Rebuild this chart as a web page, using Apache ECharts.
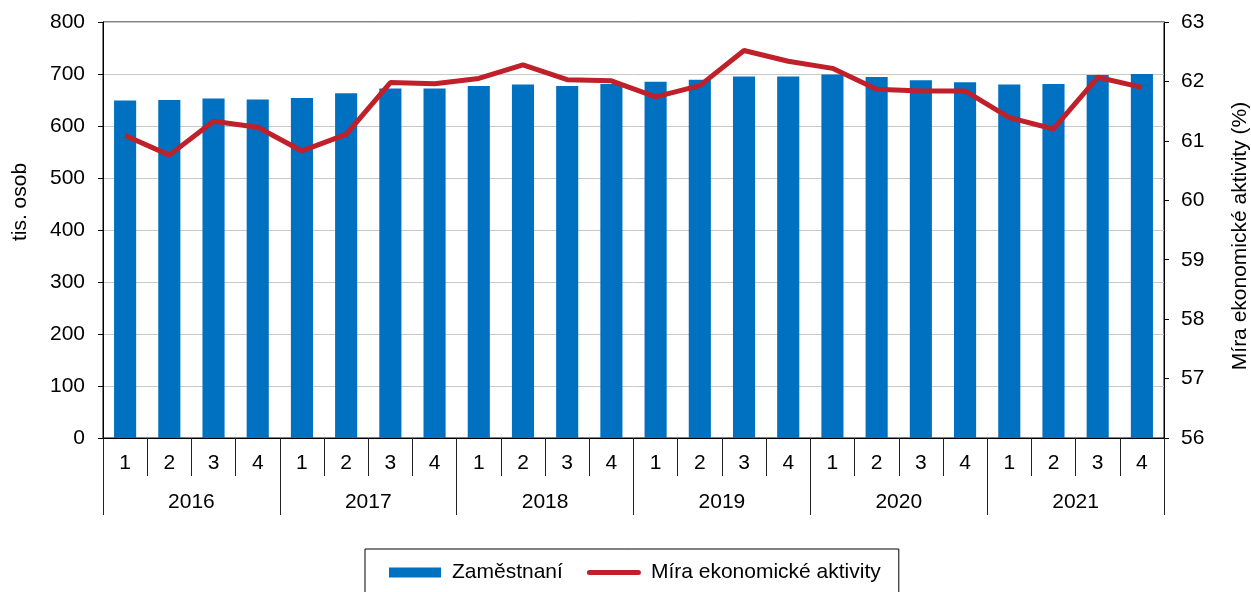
<!DOCTYPE html>
<html>
<head>
<meta charset="utf-8">
<script src="https://cdn.jsdelivr.net/npm/echarts@6/dist/echarts.min.js"></script>
<style>
  html, body { margin: 0; padding: 0; background: #fff; }
  #chart { width: 1251px; height: 592px; }
</style>
</head>
<body>
<div id="chart"></div>
<script>
// data
const years = ['2016', '2017', '2018', '2019', '2020', '2021'];
const quarters = ['1', '2', '3', '4'];
const zamestnani = [649, 650, 653, 651, 654, 663, 672, 672, 677, 680, 677, 681,
                    685, 689, 695, 695, 699, 694, 688, 684, 680, 681, 698, 700];
const mira = [61.09, 60.76, 61.33, 61.23, 60.83, 61.11, 61.98, 61.96, 62.05, 62.28, 62.03, 62.01,
              61.74, 61.93, 62.52, 62.34, 62.22, 61.87, 61.84, 61.84, 61.39, 61.20, 62.07, 61.90];

// unique keys for the quarter axis, label shows only the quarter
const categories = [];
years.forEach(y => quarters.forEach(q => categories.push(y + '-' + q)));

const FONT = 'Liberation Sans, Arial, sans-serif';
const FS = 21;
const chart = echarts.init(document.getElementById('chart'));

chart.setOption({
  animation: false,
  textStyle: { fontFamily: FONT, color: '#000' },
  grid: {
    left: 103, right: 87, top: 22, bottom: 154,
    show: true, borderColor: '#000', borderWidth: 1
  },
  legend: {
    left: 365, top: 549,
    padding: [13, 18, 13, 24],
    borderColor: '#000', borderWidth: 1,
    itemWidth: 54, itemHeight: 10, itemGap: 24,
    textStyle: { fontFamily: FONT, fontSize: FS, color: '#000', padding: [0, 0, 0, 5] },
    data: [
      { name: 'Zaměstnaní', icon: 'path://M0,0 h52 v10 h-52z' },
      { name: 'Míra ekonomické aktivity',
        icon: 'path://M2.5,0 h49 a2.5,2.5 0 0 1 0,5 h-49 a2.5,2.5 0 0 1 0,-5z' }
    ]
  },
  xAxis: [
    {
      type: 'category', data: categories, position: 'bottom',
      axisLine: { lineStyle: { color: '#000', width: 1 } },
      axisTick: { show: true, interval: 0, length: 38, lineStyle: { color: '#222' } },
      axisLabel: {
        interval: 0, margin: 15, fontSize: FS, color: '#000',
        formatter: v => v.split('-')[1]
      }
    },
    {
      type: 'category', data: years, position: 'bottom',
      axisLine: { show: false },
      axisTick: { show: true, interval: 0, length: 77, lineStyle: { color: '#222' } },
      axisLabel: { interval: 0, margin: 54, fontSize: FS, color: '#000' }
    }
  ],
  yAxis: [
    {
      type: 'value', min: 0, max: 800, interval: 100,
      axisLine: { show: true, lineStyle: { color: '#000' } },
      axisTick: { show: true, length: 5, lineStyle: { color: '#000' } },
      axisLabel: { margin: 18, fontSize: FS, color: '#000' },
      splitLine: { lineStyle: { color: '#c8c8c8', width: 1 } }
    },
    {
      type: 'value', min: 56, max: 63, interval: 1, position: 'right',
      axisLine: { show: true, lineStyle: { color: '#000' } },
      axisTick: { show: true, length: 5, lineStyle: { color: '#000' } },
      axisLabel: { margin: 17, fontSize: FS, color: '#000' },
      splitLine: { show: false }
    }
  ],
  graphic: [
    {
      type: 'text', x: 20, y: 202, rotation: Math.PI / 2,
      style: { text: 'tis. osob', font: FS + 'px ' + FONT, fill: '#000',
               textAlign: 'center', textVerticalAlign: 'middle' }
    },
    {
      type: 'text', x: 1240, y: 236, rotation: Math.PI / 2,
      style: { text: 'Míra ekonomické aktivity (%)', font: FS + 'px ' + FONT, fill: '#000',
               textAlign: 'center', textVerticalAlign: 'middle' }
    }
  ],
  series: [
    {
      name: 'Zaměstnaní', type: 'bar', xAxisIndex: 0, yAxisIndex: 0,
      data: zamestnani, barWidth: '50%',
      itemStyle: { color: '#0070c0' }
    },
    {
      name: 'Míra ekonomické aktivity', type: 'line', xAxisIndex: 0, yAxisIndex: 1,
      data: mira, showSymbol: false, symbol: 'none',
      lineStyle: { color: '#c0202a', width: 5 },
      itemStyle: { color: '#c0202a' }
    }
  ]
});
</script>
</body>
</html>
